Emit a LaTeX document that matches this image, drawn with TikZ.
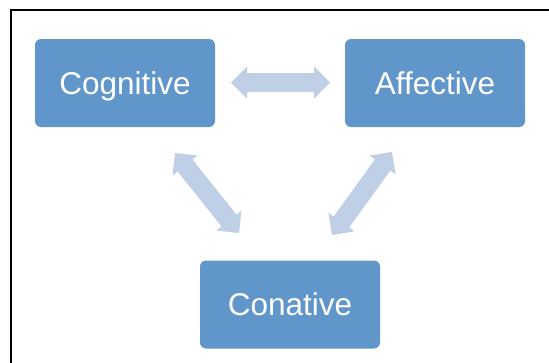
\documentclass[tikz,border=0pt]{standalone}
\usepackage{fontspec}
\setmainfont{Liberation Sans}
\usetikzlibrary{calc}
\definecolor{boxc}{HTML}{6096C9}
\definecolor{arrc}{HTML}{BFCFE5}
\tikzset{
  blk/.style={rectangle, rounded corners=6pt, fill=boxc, text=white,
    minimum width=180pt, minimum height=88pt, inner sep=0pt,
    text height=22.5pt, text depth=0pt,
    font=\fontsize{31.5}{36}\selectfont},
}
\newcommand{\dblarrow}[2]{%
  \coordinate (h1) at ($(#1)!16pt!(#2)$);
  \coordinate (h2) at ($(#2)!16pt!(#1)$);
  \fill[arrc] (#1) -- ($(h1)!16pt!90:(#2)$) -- ($(h1)!9.5pt!90:(#2)$)
    -- ($(h2)!9.5pt!-90:(#1)$) -- ($(h2)!16pt!-90:(#1)$) -- (#2)
    -- ($(h2)!16pt!90:(#1)$) -- ($(h2)!9.5pt!90:(#1)$)
    -- ($(h1)!9.5pt!-90:(#2)$) -- ($(h1)!16pt!-90:(#2)$) -- cycle;
}
\begin{document}
\begin{tikzpicture}[x=1pt,y=-1pt]
\useasboundingbox (0,0) rectangle (549,362);
\clip (0,0) rectangle (549,362);
\draw[line width=2pt] (11,10) rectangle (570,390);
\node[blk] (cog) at (125,83) {Cognitive};
\node[blk] (aff) at (435,83) {Affective};
\node[blk] (con) at (290,304.5) {Conative};
\coordinate (a1) at (231,82.5);
\coordinate (a2) at (330,82.5);
\coordinate (b1) at (175,153);
\coordinate (b2) at (239,233);
\coordinate (c1) at (392,152);
\coordinate (c2) at (332,235);
\dblarrow{a1}{a2}
\dblarrow{b1}{b2}
\dblarrow{c1}{c2}
\end{tikzpicture}
\end{document}
